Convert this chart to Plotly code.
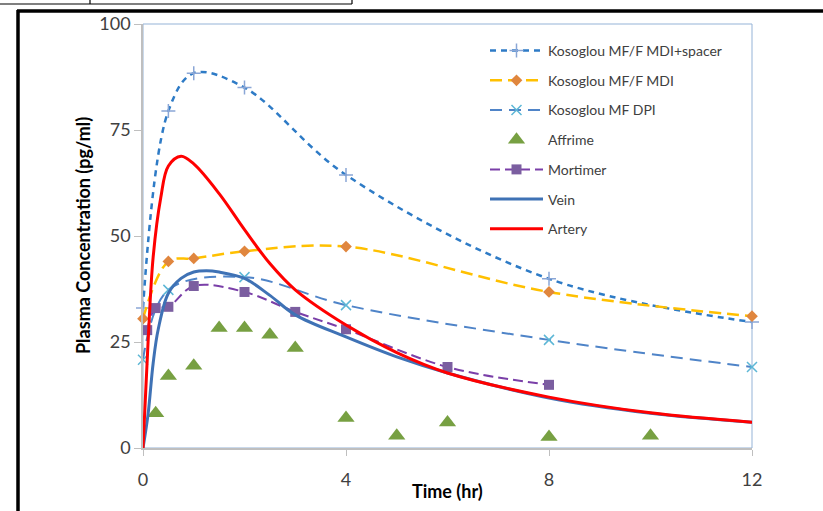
import plotly.graph_objects as go

# ---- data ----
t_spacer = [0, 0.5, 1, 2, 4, 8, 12]
v_spacer = [33, 79.5, 88.4, 85.0, 64.4, 39.9, 29.7]

t_mdi = [0, 0.5, 1, 2, 4, 8, 12]
v_mdi = [30.5, 44.0, 44.7, 46.4, 47.5, 36.8, 31.1]

t_dpi = [0, 0.5, 2, 4, 8, 12]
v_dpi = [20.8, 37.3, 40.3, 33.7, 25.5, 19.1]

t_affrime = [0.25, 0.5, 1, 1.5, 2, 2.5, 3, 4, 5, 6, 8, 10]
v_affrime = [8.2, 17.0, 19.4, 28.3, 28.3, 26.7, 23.6, 7.1, 2.9, 6.0, 2.6, 2.9]

t_mortimer = [0.083, 0.25, 0.5, 1, 2, 3, 4, 6, 8]
v_mortimer = [27.8, 33.0, 33.3, 38.2, 36.8, 32.1, 28.0, 19.1, 14.9]

t_vein = [0, 0.1, 0.2, 0.3, 0.5, 0.75, 1, 1.25, 1.5, 2, 2.5, 3, 4, 5, 6, 8, 10, 12]
v_vein = [0, 8, 20, 28, 36.5, 40.0, 41.5, 41.8, 41.5, 40.0, 36.0, 31.4, 26.2, 21.5, 17.7, 11.8, 8.2, 6.1]

t_artery = [0, 0.1, 0.2, 0.35, 0.5, 0.75, 1, 1.5, 2, 2.5, 3, 4, 5, 6, 8, 10, 12]
v_artery = [0, 25, 45, 59, 66.5, 68.8, 67.0, 60.0, 51.5, 43.5, 37.3, 29.0, 22.5, 17.7, 12.0, 8.3, 6.1]

x_ticks = [0, 4, 8, 12]
y_ticks = [0, 25, 50, 75, 100]

FONT = "Lato"
W, H = 823, 511
L, R, T, B = 143, 752, 24, 448  # plot area in pixels


def px(x):
    return (x - L) / (R - L)


def py(y):
    return (B - y) / (B - T)


fig = go.Figure()

fig.add_trace(go.Scatter(
    x=t_spacer, y=v_spacer, name="Kosoglou MF/F MDI+spacer", mode="lines+markers",
    line=dict(color="#2E7BC6", width=2.5, dash="6px,5px", shape="spline"),
    marker=dict(symbol="cross-thin", size=10, line=dict(color="#8AA6D6", width=1.5)),
    legendgroup="a", cliponaxis=False))
fig.add_trace(go.Scatter(
    x=t_mdi, y=v_mdi, name="Kosoglou MF/F MDI", mode="lines+markers",
    line=dict(color="#FFC000", width=2.5, dash="12px,6px", shape="spline"),
    marker=dict(symbol="diamond", size=9, color="#E0863E"),
    legendgroup="b", cliponaxis=False))
fig.add_trace(go.Scatter(
    x=t_dpi, y=v_dpi, name="Kosoglou MF DPI", mode="lines+markers",
    line=dict(color="#4F84C8", width=2, dash="12px,7px", shape="spline"),
    marker=dict(symbol="x-thin", size=10, line=dict(color="#5DB7D6", width=1.5)),
    legendgroup="c", cliponaxis=False))
fig.add_trace(go.Scatter(
    x=t_affrime, y=v_affrime, name="Affrime", mode="markers",
    marker=dict(symbol="triangle-up", size=15, color="#77A042"),
    legendgroup="d", cliponaxis=False))
fig.add_trace(go.Scatter(
    x=t_mortimer, y=v_mortimer, name="Mortimer", mode="lines+markers",
    line=dict(color="#7A3FA8", width=2, dash="10px,5px", shape="spline"),
    marker=dict(symbol="square", size=10, color="#7B5EA0"),
    legendgroup="e", cliponaxis=False))
fig.add_trace(go.Scatter(
    x=t_vein, y=v_vein, name="Vein", mode="lines",
    line=dict(color="#3F72B5", width=3, shape="spline"),
    legendgroup="f"))
fig.add_trace(go.Scatter(
    x=t_artery, y=v_artery, name="Artery", mode="lines",
    line=dict(color="#FF0000", width=3, shape="spline"),
    legendgroup="g"))

shapes = [
    # plot area border (light blue)
    dict(type="rect", xref="paper", yref="paper", x0=0, x1=1, y0=0, y1=1,
         line=dict(color="#95B3D7", width=1), layer="below"),
    # outer black frame
    dict(type="line", xref="paper", yref="paper", x0=px(17), x1=px(823), y0=py(11), y1=py(11),
         line=dict(color="black", width=3.5)),
    dict(type="line", xref="paper", yref="paper", x0=px(18), x1=px(18), y0=py(10), y1=py(511),
         line=dict(color="black", width=3.5)),
    # small box at top-left
    dict(type="line", xref="paper", yref="paper", x0=px(0), x1=px(352), y0=py(4), y1=py(4),
         line=dict(color="black", width=1.2)),
    dict(type="line", xref="paper", yref="paper", x0=px(352), x1=px(352), y0=py(0), y1=py(4),
         line=dict(color="black", width=1.2)),
    dict(type="line", xref="paper", yref="paper", x0=px(90), x1=px(90), y0=py(0), y1=py(4),
         line=dict(color="black", width=1.2)),
]

annotations = [
    dict(text="<b>Plasma Concentration (pg/ml)</b>", xref="paper", yref="paper",
         x=px(70), y=py(236), textangle=-90, showarrow=False,
         font=dict(family=FONT, size=18, color="#000000")),
    dict(text="<b>Time (hr)</b>", xref="paper", yref="paper",
         x=px(447), y=py(504), showarrow=False,
         font=dict(family=FONT, size=18, color="#000000")),
]

fig.update_layout(
    width=W, height=H,
    margin=dict(l=L, r=W - R, t=T, b=H - B, pad=0),
    paper_bgcolor="white", plot_bgcolor="white",
    font=dict(family=FONT, color="#404040"),
    showlegend=True,
    legend=dict(x=px(485), y=py(35), xanchor="left", yanchor="top",
                bgcolor="rgba(0,0,0,0)", tracegroupgap=8.5, itemwidth=53,
                font=dict(family=FONT, size=14, color="#404040")),
    shapes=shapes, annotations=annotations,
    xaxis=dict(range=[0, 12], tickvals=x_ticks, showgrid=False, zeroline=False,
               showline=True, linecolor="#BFBFBF", linewidth=1.5,
               ticks="outside", ticklen=6, tickcolor="#BFBFBF", ticklabelstandoff=9,
               tickfont=dict(family=FONT, size=18, color="#404040")),
    yaxis=dict(range=[0, 100], tickvals=y_ticks, showgrid=False, zeroline=False,
               showline=True, linecolor="#BFBFBF", linewidth=1.5,
               ticks="outside", ticklen=7, tickcolor="#BFBFBF",
               tickfont=dict(family=FONT, size=18, color="#404040")),
)

fig.write_html("out.html")
